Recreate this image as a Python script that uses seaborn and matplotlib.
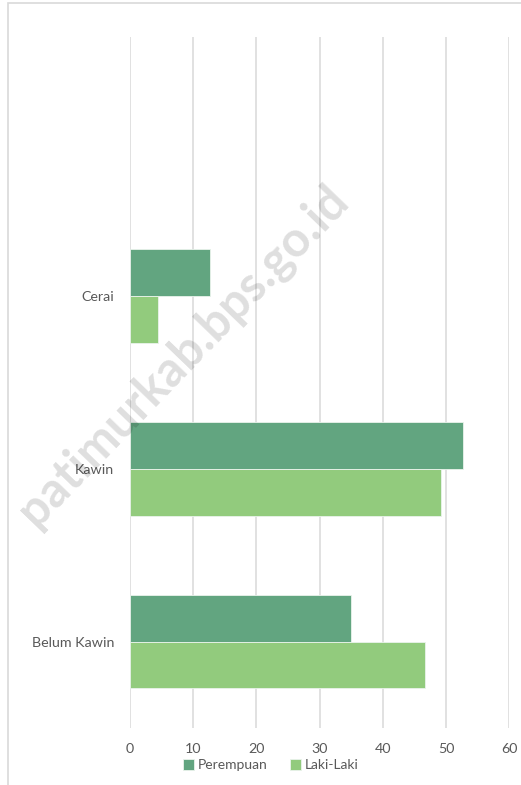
import pandas as pd
import matplotlib.pyplot as plt
import seaborn as sns
from matplotlib.patches import Rectangle

# data
status = ["Cerai", "Kawin", "Belum Kawin"]
perempuan = [12.7, 52.7, 34.9]
laki_laki = [4.4, 49.2, 46.7]
groups = ["Perempuan", "Laki-Laki"]
x_ticks = [0, 10, 20, 30, 40, 50, 60]

df = pd.DataFrame({
    "status": status * 2,
    "nilai": perempuan + laki_laki,
    "jenis": [groups[0]] * 3 + [groups[1]] * 3,
})

sns.set_theme(style="white")
plt.rcParams["font.family"] = ["Lato", "DejaVu Sans"]

fig = plt.figure(figsize=(5.21, 7.85), dpi=100)
ax = fig.add_axes([130 / 521, 1 - 728 / 785, (509.3 - 130) / 521, (728 - 37) / 785])

sns.barplot(data=df, y="status", x="nilai", hue="jenis", order=status,
            hue_order=groups, palette=["#62A580", "#92CB7D"], saturation=1,
            width=0.54, edgecolor="#EAF3EC", linewidth=0.6, ax=ax,
            legend=True, zorder=3)

ax.set_xlim(0, 60)
ax.set_ylim(2.5, -1.5)
ax.set_xticks(x_ticks)
ax.set_xticklabels([str(v) for v in x_ticks])
ax.grid(axis="x", color="#D9D9D9", linewidth=1.1, zorder=0)
ax.set_axisbelow(True)
for s in ax.spines.values():
    s.set_visible(False)
ax.set_xlabel("")
ax.set_ylabel("")
ax.tick_params(axis="x", length=0, pad=11, labelsize=10.3, labelcolor="#595959")
ax.tick_params(axis="y", length=0, pad=11.5, labelsize=10.3, labelcolor="#595959")

handles, labels = ax.get_legend_handles_labels()
ax.get_legend().remove()
fig.legend(handles, labels, loc="center", bbox_to_anchor=(0.52, 1 - 765 / 785),
           ncol=2, frameon=False, fontsize=10, handlelength=0.8, handleheight=0.8,
           handletextpad=0.3, columnspacing=1.6, labelcolor="#595959")

# chart frame
fig.patches.append(Rectangle((8 / 521, -0.1), 1.2, 1.1 - 3 / 785, transform=fig.transFigure,
                             fill=False, edgecolor="#D9D9D9", linewidth=1.2))

# watermark
fig.text(183 / 521, 1 - 355 / 785, "patimurkab.bps.go.id", rotation=46,
         ha="center", va="center", rotation_mode="anchor", fontsize=35,
         fontweight="bold", color="black", alpha=0.13, zorder=10)

fig.savefig("out.png", dpi=100)
